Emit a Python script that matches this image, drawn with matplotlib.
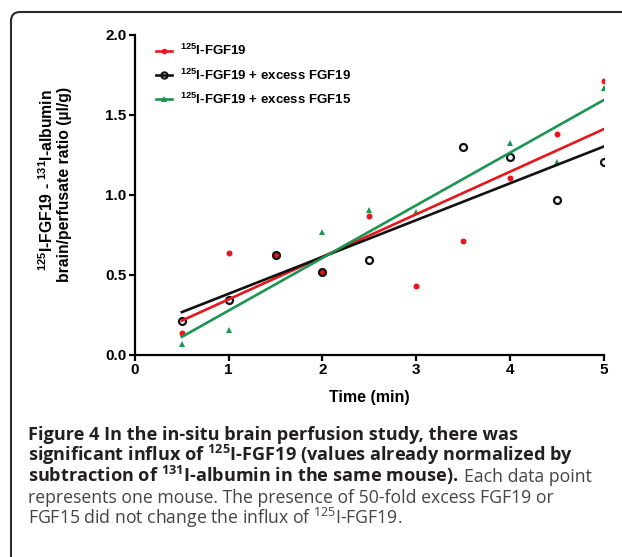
import numpy as np
import matplotlib
matplotlib.use("Agg")
import matplotlib.pyplot as plt
from matplotlib.lines import Line2D
from matplotlib.patches import FancyBboxPatch
from matplotlib.transforms import IdentityTransform

plt.rcParams['mathtext.fontset'] = 'custom'
plt.rcParams['mathtext.sf'] = 'Liberation Sans:bold'
plt.rcParams['mathtext.bf'] = 'Open Sans:bold'
plt.rcParams['mathtext.rm'] = 'Open Sans'

# ---- data ----
x_red = [0.5, 1.0, 1.5, 2.0, 2.5, 3.0, 3.5, 4.0, 4.5, 5.0]
y_red = [0.14, 0.635, 0.625, 0.52, 0.867, 0.433, 0.71, 1.106, 1.38, 1.714]
x_blk = [0.5, 1.0, 1.5, 2.0, 2.5, 3.5, 4.0, 4.5, 5.0]
y_blk = [0.2125, 0.344, 0.625, 0.52, 0.594, 1.30, 1.24, 0.969, 1.204]
x_grn = [0.5, 1.0, 2.0, 2.5, 3.0, 4.0, 4.5, 5.0]
y_grn = [0.069, 0.156, 0.767, 0.906, 0.896, 1.323, 1.205, 1.667]
labels = [r'$^{\mathsf{125}}$I-FGF19',
          r'$^{\mathsf{125}}$I-FGF19 + excess FGF19',
          r'$^{\mathsf{125}}$I-FGF19 + excess FGF15']
xticks = [0, 1, 2, 3, 4, 5]
yticks = [0.0, 0.5, 1.0, 1.5, 2.0]

W, H = 622, 557
DPI = 100
fig = plt.figure(figsize=(W / DPI, H / DPI), dpi=DPI)

# frame (top + left, rounded corner)
frame = FancyBboxPatch((11, -40), 700, H - 12 + 40, boxstyle="round,pad=0,rounding_size=9",
                       transform=IdentityTransform(), fill=False, ec='#2a2a2a', lw=1.5)
fig.patches.append(frame)

ax = fig.add_axes([135 / W, 1 - 355 / H, (603.5 - 135) / W, (355 - 35) / H])
ax.set_xlim(0, 5)
ax.set_ylim(0, 2.0)
for s in ['top', 'right']:
    ax.spines[s].set_visible(False)
for s in ['left', 'bottom']:
    ax.spines[s].set_linewidth(1.6)
ax.set_xticks(xticks)
ax.set_yticks(yticks)
ax.set_xticklabels([str(t) for t in xticks])
ax.set_yticklabels(['%.1f' % t for t in yticks])
ax.tick_params(width=1.6, length=4, labelsize=11, pad=2)
for lab in ax.get_xticklabels() + ax.get_yticklabels():
    lab.set_fontweight('bold')
    lab.set_family('Liberation Sans')

red = '#e8151b'
grn = '#1a9650'
blk = '#111111'

ax.plot(x_red, y_red, 'o', color=red, ms=4.3, mew=0, zorder=2)
ax.plot(x_blk, y_blk, 'o', mfc='none', mec=blk, ms=5.0, mew=1.6, zorder=2)
ax.plot(x_grn, y_grn, '^', color=grn, ms=4.5, mew=0, zorder=2)

for xs, ys, c in [(x_red, y_red, red), (x_blk, y_blk, blk), (x_grn, y_grn, grn)]:
    k, b = np.polyfit(xs, ys, 1)
    xl = np.array([min(xs), max(xs)])
    ax.plot(xl, k * xl + b, '-', color=c, lw=1.9, zorder=3)

handles = [Line2D([], [], color=red, lw=1.9, marker='o', ms=4.0, mew=0),
           Line2D([], [], color=blk, lw=1.9, marker='o', ms=4.5, mfc='none', mew=1.5),
           Line2D([], [], color=grn, lw=1.9, marker='^', ms=4.2, mew=0)]
leg = fig.legend(handles, labels, loc='upper left', bbox_to_anchor=(156 / W, 1 - 43 / H),
                 frameon=False, borderpad=0, borderaxespad=0, handlelength=1.2,
                 handletextpad=0.6, labelspacing=0.7,
                 prop={'family': 'Liberation Sans', 'weight': 'bold', 'size': 9.5})

ax.set_xlabel('Time (min)', fontsize=11.5, fontweight='bold', family='Liberation Sans', labelpad=9)

fig.text(47 / W, 1 - 180 / H, r'$^{\mathsf{125}}$I-FGF19 - $^{\mathsf{131}}$I-albumin', rotation=90,
         ha='center', va='center', fontsize=11.3, fontweight='bold', family='Liberation Sans')
fig.text(65 / W, 1 - 184 / H, 'brain/perfusate ratio (\u00b5l/g)', rotation=90,
         ha='center', va='center', fontsize=11.3, fontweight='bold', family='Liberation Sans')

# caption
cap_sizes = {'bold': 13.1, 'normal': 12.7}
x0 = 28
baselines = [440, 461, 482, 503, 524]
lines = [
    [(r'Figure 4 In the in-situ brain perfusion study, there was', 'bold')],
    [(r'significant influx of $^{\mathbf{125}}$I-FGF19 (values already normalized by', 'bold')],
    [(r'subtraction of $^{\mathbf{131}}$I-albumin in the same mouse).', 'bold'),
     (r'Each data point', 'normal')],
    [(r'represents one mouse. The presence of 50-fold excess FGF19 or', 'normal')],
    [(r'FGF15 did not change the influx of $^{\mathrm{125}}$I-FGF19.', 'normal')],
]
renderer = fig.canvas.get_renderer()
for bl, segs in zip(baselines, lines):
    xp = x0
    for txt, wt in segs:
        t = fig.text(xp / W, 1 - bl / H, txt, ha='left', va='baseline', fontsize=cap_sizes[wt],
                     fontweight=wt, family='Open Sans', color='#231f20' if wt == 'bold' else '#444444')
        ext = t.get_window_extent(renderer)
        xp = ext.x1 + 6

fig.savefig('out.png', dpi=DPI)
